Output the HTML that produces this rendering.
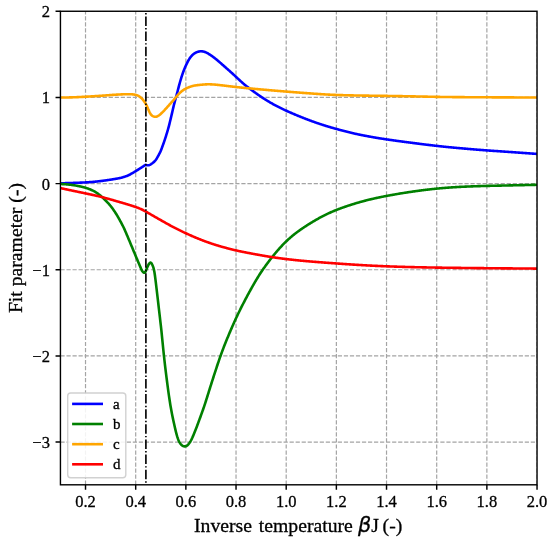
<!DOCTYPE html>
<html><head><meta charset="utf-8"><title>Fit parameters</title>
<style>html,body{margin:0;padding:0;background:#fff}svg{display:block}</style></head>
<body>
<svg width="550" height="540" viewBox="0 0 550 540">
<rect width="550" height="540" fill="#fff"/>
<clipPath id="ax"><rect x="60.44" y="11.26" width="476.59999999999997" height="473.54"/></clipPath>
<path d="M85.52,484.8 V11.26 M135.69,484.8 V11.26 M185.86,484.8 V11.26 M236.03,484.8 V11.26 M286.20,484.8 V11.26 M336.37,484.8 V11.26 M386.53,484.8 V11.26 M436.70,484.8 V11.26 M486.87,484.8 V11.26 M537.04,484.8 V11.26 M60.44,11.29 H537.04 M60.44,97.45 H537.04 M60.44,183.61 H537.04 M60.44,269.77 H537.04 M60.44,355.93 H537.04 M60.44,442.09 H537.04" fill="none" stroke="#a4a4a4" stroke-width="1.2" stroke-dasharray="4.22 1.81" clip-path="url(#ax)"/>
<g clip-path="url(#ax)" fill="none" stroke-width="2.6" stroke-linejoin="round">
<path d="M60.4,183.30 L60.9,183.29 L61.4,183.28 L61.9,183.26 L62.4,183.25 L62.9,183.24 L63.4,183.22 L63.9,183.21 L64.4,183.20 L64.9,183.18 L65.4,183.17 L65.9,183.15 L66.4,183.14 L66.9,183.12 L67.4,183.11 L67.9,183.09 L68.4,183.07 L68.9,183.06 L69.4,183.04 L69.9,183.03 L70.4,183.01 L70.9,183.00 L71.4,182.98 L71.9,182.96 L72.4,182.95 L72.9,182.93 L73.4,182.91 L73.9,182.89 L74.4,182.88 L74.9,182.86 L75.4,182.84 L75.9,182.82 L76.4,182.80 L76.9,182.78 L77.4,182.76 L77.9,182.74 L78.4,182.72 L78.9,182.70 L79.4,182.68 L79.9,182.66 L80.4,182.64 L80.9,182.62 L81.4,182.59 L81.9,182.57 L82.4,182.55 L82.9,182.53 L83.4,182.50 L83.9,182.48 L84.4,182.46 L84.9,182.43 L85.4,182.41 L85.9,182.38 L86.4,182.36 L86.9,182.33 L87.4,182.30 L87.9,182.27 L88.4,182.24 L88.9,182.20 L89.4,182.17 L89.9,182.13 L90.4,182.09 L90.9,182.06 L91.4,182.02 L91.9,181.97 L92.4,181.93 L92.9,181.89 L93.4,181.84 L93.9,181.79 L94.4,181.75 L94.9,181.70 L95.4,181.65 L95.9,181.60 L96.4,181.54 L96.9,181.49 L97.4,181.44 L97.9,181.38 L98.4,181.33 L98.9,181.27 L99.4,181.21 L99.9,181.15 L100.4,181.10 L100.9,181.04 L101.4,180.97 L101.9,180.91 L102.4,180.85 L102.9,180.78 L103.4,180.71 L103.9,180.65 L104.4,180.58 L104.9,180.51 L105.4,180.44 L105.9,180.37 L106.4,180.29 L106.9,180.22 L107.4,180.15 L107.9,180.07 L108.4,180.00 L108.9,179.92 L109.4,179.84 L109.9,179.76 L110.4,179.69 L110.9,179.61 L111.4,179.53 L111.9,179.45 L112.4,179.37 L112.9,179.29 L113.4,179.20 L113.9,179.12 L114.4,179.04 L114.9,178.96 L115.4,178.88 L115.9,178.79 L116.4,178.70 L116.9,178.61 L117.4,178.52 L117.9,178.42 L118.4,178.32 L118.9,178.22 L119.4,178.12 L119.9,178.01 L120.4,177.90 L120.9,177.79 L121.4,177.66 L121.9,177.53 L122.4,177.39 L122.9,177.25 L123.4,177.10 L123.9,176.95 L124.4,176.79 L124.9,176.62 L125.4,176.45 L125.9,176.28 L126.4,176.10 L126.9,175.91 L127.4,175.71 L127.9,175.50 L128.4,175.28 L128.9,175.04 L129.4,174.80 L129.9,174.53 L130.4,174.26 L130.9,173.98 L131.4,173.70 L131.9,173.42 L132.4,173.13 L132.9,172.84 L133.4,172.55 L133.9,172.25 L134.4,171.95 L134.9,171.65 L135.4,171.34 L135.9,171.03 L136.4,170.71 L136.9,170.40 L137.4,170.09 L137.9,169.78 L138.4,169.47 L138.9,169.15 L139.4,168.84 L139.9,168.52 L140.4,168.20 L140.9,167.87 L141.4,167.55 L141.9,167.22 L142.4,166.89 L142.9,166.57 L143.4,166.24 L143.9,165.91 L144.4,165.57 L144.9,165.24 L145.4,164.94 L145.9,164.87 L146.4,165.05 L146.9,165.17 L147.4,165.26 L147.9,165.31 L148.4,165.29 L148.9,165.20 L149.4,165.05 L149.9,164.86 L150.4,164.60 L150.9,164.27 L151.4,163.91 L151.9,163.54 L152.4,163.17 L152.9,162.78 L153.4,162.39 L153.9,161.98 L154.4,161.51 L154.9,160.97 L155.4,160.37 L155.9,159.72 L156.4,159.00 L156.9,158.20 L157.4,157.34 L157.9,156.44 L158.4,155.53 L158.9,154.60 L159.4,153.65 L159.9,152.67 L160.4,151.63 L160.9,150.49 L161.4,149.24 L161.9,147.91 L162.4,146.54 L162.9,145.16 L163.4,143.76 L163.9,142.34 L164.4,140.88 L164.9,139.40 L165.4,137.87 L165.9,136.32 L166.4,134.73 L166.9,133.12 L167.4,131.46 L167.9,129.74 L168.4,127.94 L168.9,126.05 L169.4,124.07 L169.9,122.05 L170.4,119.99 L170.9,117.92 L171.4,115.79 L171.9,113.61 L172.4,111.43 L172.9,109.25 L173.4,107.11 L173.9,105.04 L174.4,103.07 L174.9,101.21 L175.4,99.43 L175.9,97.65 L176.4,95.82 L176.9,93.93 L177.4,91.99 L177.9,90.04 L178.4,88.10 L178.9,86.18 L179.4,84.31 L179.9,82.50 L180.4,80.76 L180.9,79.08 L181.4,77.46 L181.9,75.89 L182.4,74.38 L182.9,72.92 L183.4,71.54 L183.9,70.22 L184.4,68.97 L184.9,67.77 L185.4,66.61 L185.9,65.49 L186.4,64.41 L186.9,63.36 L187.4,62.36 L187.9,61.40 L188.4,60.49 L188.9,59.63 L189.4,58.82 L189.9,58.06 L190.4,57.35 L190.9,56.70 L191.4,56.09 L191.9,55.55 L192.4,55.06 L192.9,54.61 L193.4,54.19 L193.9,53.80 L194.4,53.44 L194.9,53.11 L195.4,52.81 L195.9,52.54 L196.4,52.31 L196.9,52.11 L197.4,51.93 L197.9,51.77 L198.4,51.63 L198.9,51.51 L199.4,51.42 L199.9,51.35 L200.4,51.31 L200.9,51.30 L201.4,51.31 L201.9,51.33 L202.4,51.37 L202.9,51.43 L203.4,51.52 L203.9,51.64 L204.4,51.79 L204.9,51.98 L205.4,52.19 L205.9,52.41 L206.4,52.65 L206.9,52.90 L207.4,53.16 L207.9,53.44 L208.4,53.73 L208.9,54.04 L209.4,54.35 L209.9,54.68 L210.4,55.02 L210.9,55.36 L211.4,55.70 L211.9,56.04 L212.4,56.39 L212.9,56.75 L213.4,57.11 L213.9,57.48 L214.4,57.86 L214.9,58.25 L215.4,58.65 L215.9,59.06 L216.4,59.47 L216.9,59.88 L217.4,60.30 L217.9,60.73 L218.4,61.15 L218.9,61.58 L219.4,62.02 L219.9,62.45 L220.4,62.89 L220.9,63.33 L221.4,63.77 L221.9,64.21 L222.4,64.64 L222.9,65.08 L223.4,65.52 L223.9,65.96 L224.4,66.40 L224.9,66.84 L225.4,67.28 L225.9,67.72 L226.4,68.17 L226.9,68.61 L227.4,69.05 L227.9,69.49 L228.4,69.93 L228.9,70.38 L229.4,70.82 L229.9,71.27 L230.4,71.72 L230.9,72.17 L231.4,72.62 L231.9,73.07 L232.4,73.53 L232.9,73.98 L233.4,74.44 L233.9,74.90 L234.4,75.36 L234.9,75.82 L235.4,76.29 L235.9,76.75 L236.4,77.21 L236.9,77.68 L237.4,78.14 L237.9,78.61 L238.4,79.08 L238.9,79.54 L239.4,80.01 L239.9,80.47 L240.4,80.93 L240.9,81.39 L241.4,81.85 L241.9,82.30 L242.4,82.74 L242.9,83.18 L243.4,83.62 L243.9,84.05 L244.4,84.47 L244.9,84.89 L245.4,85.30 L245.9,85.70 L246.4,86.10 L246.9,86.50 L247.4,86.88 L247.9,87.27 L248.4,87.65 L248.9,88.03 L249.4,88.41 L249.9,88.78 L250.4,89.16 L250.9,89.53 L251.4,89.90 L251.9,90.27 L252.4,90.64 L252.9,91.00 L253.4,91.37 L253.9,91.74 L254.4,92.10 L254.9,92.46 L255.4,92.82 L255.9,93.18 L256.4,93.54 L256.9,93.89 L257.4,94.24 L257.9,94.59 L258.4,94.94 L258.9,95.29 L259.4,95.63 L259.9,95.97 L260.4,96.31 L260.9,96.65 L261.4,96.98 L261.9,97.32 L262.4,97.65 L262.9,97.97 L263.4,98.30 L263.9,98.62 L264.4,98.94 L264.9,99.26 L265.4,99.57 L265.9,99.89 L266.4,100.20 L266.9,100.50 L267.4,100.81 L267.9,101.11 L268.4,101.41 L268.9,101.71 L269.4,102.01 L269.9,102.30 L270.4,102.60 L270.9,102.88 L271.4,103.17 L271.9,103.46 L272.4,103.74 L272.9,104.02 L273.4,104.30 L273.9,104.57 L274.4,104.84 L274.9,105.11 L275.4,105.38 L275.9,105.65 L276.4,105.91 L276.9,106.17 L277.4,106.43 L277.9,106.69 L278.4,106.94 L278.9,107.19 L279.4,107.44 L279.9,107.69 L280.4,107.94 L280.9,108.18 L281.4,108.43 L281.9,108.67 L282.4,108.91 L282.9,109.14 L283.4,109.38 L283.9,109.61 L284.4,109.85 L284.9,110.08 L285.4,110.31 L285.9,110.54 L286.4,110.77 L286.9,110.99 L287.4,111.22 L287.9,111.44 L288.4,111.67 L288.9,111.89 L289.4,112.11 L289.9,112.33 L290.4,112.55 L290.9,112.77 L291.4,112.99 L291.9,113.21 L292.4,113.42 L292.9,113.64 L293.4,113.85 L293.9,114.06 L294.4,114.28 L294.9,114.49 L295.4,114.70 L295.9,114.91 L296.4,115.12 L296.9,115.33 L297.4,115.53 L297.9,115.74 L298.4,115.95 L298.9,116.15 L299.4,116.35 L299.9,116.56 L300.4,116.76 L300.9,116.96 L301.4,117.16 L301.9,117.36 L302.4,117.56 L302.9,117.76 L303.4,117.96 L303.9,118.15 L304.4,118.35 L304.9,118.54 L305.4,118.74 L305.9,118.93 L306.4,119.12 L306.9,119.31 L307.4,119.50 L307.9,119.69 L308.4,119.88 L308.9,120.07 L309.4,120.25 L309.9,120.44 L310.4,120.63 L310.9,120.81 L311.4,120.99 L311.9,121.17 L312.4,121.36 L312.9,121.54 L313.4,121.72 L313.9,121.89 L314.4,122.07 L314.9,122.25 L315.4,122.42 L315.9,122.60 L316.4,122.77 L316.9,122.94 L317.4,123.12 L317.9,123.29 L318.4,123.46 L318.9,123.62 L319.4,123.79 L319.9,123.96 L320.4,124.12 L320.9,124.29 L321.4,124.45 L321.9,124.62 L322.4,124.78 L322.9,124.94 L323.4,125.10 L323.9,125.26 L324.4,125.41 L324.9,125.57 L325.4,125.73 L325.9,125.88 L326.4,126.04 L326.9,126.19 L327.4,126.34 L327.9,126.49 L328.4,126.64 L328.9,126.79 L329.4,126.94 L329.9,127.09 L330.4,127.24 L330.9,127.39 L331.4,127.53 L331.9,127.68 L332.4,127.82 L332.9,127.97 L333.4,128.11 L333.9,128.25 L334.4,128.39 L334.9,128.54 L335.4,128.68 L335.9,128.82 L336.4,128.96 L336.9,129.10 L337.4,129.23 L337.9,129.37 L338.4,129.51 L338.9,129.65 L339.4,129.78 L339.9,129.92 L340.4,130.05 L340.9,130.18 L341.4,130.32 L341.9,130.45 L342.4,130.58 L342.9,130.71 L343.4,130.84 L343.9,130.97 L344.4,131.10 L344.9,131.23 L345.4,131.36 L345.9,131.49 L346.4,131.61 L346.9,131.74 L347.4,131.86 L347.9,131.99 L348.4,132.11 L348.9,132.23 L349.4,132.36 L349.9,132.48 L350.4,132.60 L350.9,132.72 L351.4,132.83 L351.9,132.95 L352.4,133.07 L352.9,133.18 L353.4,133.30 L353.9,133.41 L354.4,133.52 L354.9,133.64 L355.4,133.75 L355.9,133.86 L356.4,133.97 L356.9,134.08 L357.4,134.19 L357.9,134.29 L358.4,134.40 L358.9,134.51 L359.4,134.61 L359.9,134.71 L360.4,134.82 L360.9,134.92 L361.4,135.02 L361.9,135.12 L362.4,135.22 L362.9,135.32 L363.4,135.42 L363.9,135.52 L364.4,135.62 L364.9,135.71 L365.4,135.81 L365.9,135.90 L366.4,136.00 L366.9,136.09 L367.4,136.19 L367.9,136.28 L368.4,136.37 L368.9,136.46 L369.4,136.56 L369.9,136.65 L370.4,136.74 L370.9,136.83 L371.4,136.91 L371.9,137.00 L372.4,137.09 L372.9,137.18 L373.4,137.27 L373.9,137.35 L374.4,137.44 L374.9,137.52 L375.4,137.61 L375.9,137.69 L376.4,137.78 L376.9,137.86 L377.4,137.94 L377.9,138.03 L378.4,138.11 L378.9,138.19 L379.4,138.27 L379.9,138.35 L380.4,138.43 L380.9,138.51 L381.4,138.59 L381.9,138.67 L382.4,138.75 L382.9,138.83 L383.4,138.90 L383.9,138.98 L384.4,139.06 L384.9,139.13 L385.4,139.21 L385.9,139.28 L386.4,139.36 L386.9,139.43 L387.4,139.51 L387.9,139.58 L388.4,139.65 L388.9,139.73 L389.4,139.80 L389.9,139.87 L390.4,139.94 L390.9,140.01 L391.4,140.09 L391.9,140.16 L392.4,140.23 L392.9,140.30 L393.4,140.37 L393.9,140.44 L394.4,140.51 L394.9,140.58 L395.4,140.65 L395.9,140.72 L396.4,140.78 L396.9,140.85 L397.4,140.92 L397.9,140.99 L398.4,141.06 L398.9,141.12 L399.4,141.19 L399.9,141.26 L400.4,141.33 L400.9,141.39 L401.4,141.46 L401.9,141.53 L402.4,141.59 L402.9,141.66 L403.4,141.73 L403.9,141.79 L404.4,141.86 L404.9,141.92 L405.4,141.99 L405.9,142.06 L406.4,142.12 L406.9,142.19 L407.4,142.25 L407.9,142.32 L408.4,142.38 L408.9,142.45 L409.4,142.51 L409.9,142.58 L410.4,142.64 L410.9,142.71 L411.4,142.77 L411.9,142.83 L412.4,142.90 L412.9,142.96 L413.4,143.03 L413.9,143.09 L414.4,143.16 L414.9,143.22 L415.4,143.28 L415.9,143.35 L416.4,143.41 L416.9,143.47 L417.4,143.54 L417.9,143.60 L418.4,143.66 L418.9,143.73 L419.4,143.79 L419.9,143.85 L420.4,143.92 L420.9,143.98 L421.4,144.04 L421.9,144.11 L422.4,144.17 L422.9,144.23 L423.4,144.29 L423.9,144.36 L424.4,144.42 L424.9,144.48 L425.4,144.54 L425.9,144.60 L426.4,144.67 L426.9,144.73 L427.4,144.79 L427.9,144.85 L428.4,144.91 L428.9,144.97 L429.4,145.03 L429.9,145.09 L430.4,145.15 L430.9,145.21 L431.4,145.27 L431.9,145.33 L432.4,145.39 L432.9,145.45 L433.4,145.51 L433.9,145.57 L434.4,145.62 L434.9,145.68 L435.4,145.74 L435.9,145.80 L436.4,145.85 L436.9,145.91 L437.4,145.97 L437.9,146.02 L438.4,146.08 L438.9,146.13 L439.4,146.19 L439.9,146.24 L440.4,146.30 L440.9,146.35 L441.4,146.40 L441.9,146.46 L442.4,146.51 L442.9,146.56 L443.4,146.61 L443.9,146.67 L444.4,146.72 L444.9,146.77 L445.4,146.82 L445.9,146.87 L446.4,146.92 L446.9,146.97 L447.4,147.02 L447.9,147.07 L448.4,147.12 L448.9,147.17 L449.4,147.22 L449.9,147.26 L450.4,147.31 L450.9,147.36 L451.4,147.41 L451.9,147.45 L452.4,147.50 L452.9,147.55 L453.4,147.60 L453.9,147.64 L454.4,147.69 L454.9,147.73 L455.4,147.78 L455.9,147.83 L456.4,147.87 L456.9,147.92 L457.4,147.96 L457.9,148.01 L458.4,148.05 L458.9,148.10 L459.4,148.14 L459.9,148.19 L460.4,148.23 L460.9,148.28 L461.4,148.32 L461.9,148.37 L462.4,148.41 L462.9,148.45 L463.4,148.50 L463.9,148.54 L464.4,148.59 L464.9,148.63 L465.4,148.67 L465.9,148.72 L466.4,148.76 L466.9,148.80 L467.4,148.85 L467.9,148.89 L468.4,148.93 L468.9,148.97 L469.4,149.02 L469.9,149.06 L470.4,149.10 L470.9,149.14 L471.4,149.19 L471.9,149.23 L472.4,149.27 L472.9,149.31 L473.4,149.35 L473.9,149.40 L474.4,149.44 L474.9,149.48 L475.4,149.52 L475.9,149.56 L476.4,149.60 L476.9,149.64 L477.4,149.68 L477.9,149.72 L478.4,149.76 L478.9,149.80 L479.4,149.84 L479.9,149.88 L480.4,149.92 L480.9,149.95 L481.4,149.99 L481.9,150.03 L482.4,150.07 L482.9,150.11 L483.4,150.15 L483.9,150.18 L484.4,150.22 L484.9,150.26 L485.4,150.29 L485.9,150.33 L486.4,150.37 L486.9,150.40 L487.4,150.44 L487.9,150.48 L488.4,150.51 L488.9,150.55 L489.4,150.58 L489.9,150.62 L490.4,150.65 L490.9,150.69 L491.4,150.72 L491.9,150.76 L492.4,150.79 L492.9,150.83 L493.4,150.86 L493.9,150.90 L494.4,150.93 L494.9,150.97 L495.4,151.00 L495.9,151.04 L496.4,151.07 L496.9,151.11 L497.4,151.14 L497.9,151.17 L498.4,151.21 L498.9,151.24 L499.4,151.28 L499.9,151.31 L500.4,151.35 L500.9,151.38 L501.4,151.41 L501.9,151.45 L502.4,151.48 L502.9,151.52 L503.4,151.55 L503.9,151.58 L504.4,151.62 L504.9,151.65 L505.4,151.69 L505.9,151.72 L506.4,151.76 L506.9,151.79 L507.4,151.82 L507.9,151.86 L508.4,151.89 L508.9,151.93 L509.4,151.96 L509.9,152.00 L510.4,152.03 L510.9,152.06 L511.4,152.10 L511.9,152.13 L512.4,152.17 L512.9,152.20 L513.4,152.24 L513.9,152.27 L514.4,152.31 L514.9,152.34 L515.4,152.38 L515.9,152.41 L516.4,152.45 L516.9,152.48 L517.4,152.52 L517.9,152.55 L518.4,152.59 L518.9,152.62 L519.4,152.66 L519.9,152.69 L520.4,152.73 L520.9,152.76 L521.4,152.80 L521.9,152.83 L522.4,152.87 L522.9,152.90 L523.4,152.94 L523.9,152.97 L524.4,153.01 L524.9,153.04 L525.4,153.08 L525.9,153.11 L526.4,153.15 L526.9,153.18 L527.4,153.22 L527.9,153.26 L528.4,153.29 L528.9,153.33 L529.4,153.36 L529.9,153.40 L530.4,153.43 L530.9,153.47 L531.4,153.50 L531.9,153.54 L532.4,153.58 L532.9,153.61 L533.4,153.65 L533.9,153.68 L534.4,153.72 L534.9,153.76 L535.4,153.79 L535.9,153.83 L536.4,153.86 L537.0,153.90" stroke="#0000ff"/>
<path d="M60.4,184.00 L60.9,184.02 L61.4,184.04 L61.9,184.06 L62.4,184.09 L62.9,184.11 L63.4,184.14 L63.9,184.17 L64.4,184.20 L64.9,184.24 L65.4,184.28 L65.9,184.31 L66.4,184.35 L66.9,184.40 L67.4,184.44 L67.9,184.49 L68.4,184.54 L68.9,184.59 L69.4,184.64 L69.9,184.70 L70.4,184.76 L70.9,184.82 L71.4,184.88 L71.9,184.95 L72.4,185.02 L72.9,185.09 L73.4,185.16 L73.9,185.24 L74.4,185.32 L74.9,185.41 L75.4,185.49 L75.9,185.58 L76.4,185.67 L76.9,185.76 L77.4,185.86 L77.9,185.95 L78.4,186.05 L78.9,186.15 L79.4,186.25 L79.9,186.36 L80.4,186.47 L80.9,186.59 L81.4,186.71 L81.9,186.83 L82.4,186.95 L82.9,187.08 L83.4,187.21 L83.9,187.35 L84.4,187.48 L84.9,187.62 L85.4,187.76 L85.9,187.90 L86.4,188.05 L86.9,188.20 L87.4,188.37 L87.9,188.55 L88.4,188.73 L88.9,188.92 L89.4,189.11 L89.9,189.32 L90.4,189.53 L90.9,189.74 L91.4,189.97 L91.9,190.20 L92.4,190.43 L92.9,190.67 L93.4,190.92 L93.9,191.18 L94.4,191.45 L94.9,191.73 L95.4,192.03 L95.9,192.33 L96.4,192.65 L96.9,192.98 L97.4,193.32 L97.9,193.67 L98.4,194.03 L98.9,194.41 L99.4,194.79 L99.9,195.19 L100.4,195.60 L100.9,196.02 L101.4,196.45 L101.9,196.89 L102.4,197.34 L102.9,197.81 L103.4,198.28 L103.9,198.76 L104.4,199.25 L104.9,199.74 L105.4,200.24 L105.9,200.75 L106.4,201.27 L106.9,201.79 L107.4,202.33 L107.9,202.87 L108.4,203.42 L108.9,203.98 L109.4,204.55 L109.9,205.13 L110.4,205.72 L110.9,206.34 L111.4,206.97 L111.9,207.62 L112.4,208.29 L112.9,208.98 L113.4,209.69 L113.9,210.41 L114.4,211.15 L114.9,211.91 L115.4,212.68 L115.9,213.47 L116.4,214.28 L116.9,215.11 L117.4,215.96 L117.9,216.82 L118.4,217.69 L118.9,218.58 L119.4,219.48 L119.9,220.39 L120.4,221.31 L120.9,222.22 L121.4,223.15 L121.9,224.08 L122.4,225.03 L122.9,226.01 L123.4,227.02 L123.9,228.06 L124.4,229.14 L124.9,230.26 L125.4,231.42 L125.9,232.58 L126.4,233.75 L126.9,234.93 L127.4,236.10 L127.9,237.29 L128.4,238.47 L128.9,239.66 L129.4,240.86 L129.9,242.06 L130.4,243.26 L130.9,244.46 L131.4,245.66 L131.9,246.86 L132.4,248.06 L132.9,249.26 L133.4,250.46 L133.9,251.66 L134.4,252.86 L134.9,254.06 L135.4,255.25 L135.9,256.45 L136.4,257.64 L136.9,258.83 L137.4,260.02 L137.9,261.21 L138.4,262.40 L138.9,263.60 L139.4,264.78 L139.9,265.95 L140.4,267.12 L140.9,268.27 L141.4,269.41 L141.9,270.50 L142.4,271.30 L142.9,271.91 L143.4,272.44 L143.9,272.75 L144.4,272.77 L144.9,272.45 L145.4,271.78 L145.9,270.84 L146.4,269.60 L146.9,268.29 L147.4,267.07 L147.9,265.94 L148.4,264.89 L148.9,264.00 L149.4,263.37 L149.9,262.88 L150.4,262.61 L150.9,262.74 L151.4,263.25 L151.9,264.03 L152.4,265.03 L152.9,266.17 L153.4,267.62 L153.9,269.53 L154.4,272.07 L154.9,275.29 L155.4,279.12 L155.9,283.15 L156.4,287.34 L156.9,291.63 L157.4,295.91 L157.9,300.21 L158.4,304.50 L158.9,308.82 L159.4,313.14 L159.9,317.47 L160.4,321.82 L160.9,326.18 L161.4,330.70 L161.9,335.55 L162.4,340.60 L162.9,345.69 L163.4,350.69 L163.9,355.45 L164.4,359.95 L164.9,364.30 L165.4,368.51 L165.9,372.62 L166.4,376.62 L166.9,380.53 L167.4,384.37 L167.9,388.14 L168.4,391.81 L168.9,395.37 L169.4,398.80 L169.9,402.07 L170.4,405.17 L170.9,408.07 L171.4,410.82 L171.9,413.44 L172.4,415.96 L172.9,418.38 L173.4,420.73 L173.9,423.03 L174.4,425.29 L174.9,427.50 L175.4,429.64 L175.9,431.70 L176.4,433.65 L176.9,435.47 L177.4,437.15 L177.9,438.65 L178.4,439.96 L178.9,441.11 L179.4,442.10 L179.9,442.95 L180.4,443.67 L180.9,444.28 L181.4,444.81 L181.9,445.27 L182.4,445.65 L182.9,445.95 L183.4,446.16 L183.9,446.29 L184.4,446.35 L184.9,446.37 L185.4,446.33 L185.9,446.21 L186.4,446.02 L186.9,445.74 L187.4,445.35 L187.9,444.85 L188.4,444.28 L188.9,443.66 L189.4,442.98 L189.9,442.24 L190.4,441.44 L190.9,440.57 L191.4,439.63 L191.9,438.62 L192.4,437.53 L192.9,436.37 L193.4,435.17 L193.9,433.97 L194.4,432.75 L194.9,431.51 L195.4,430.26 L195.9,429.00 L196.4,427.71 L196.9,426.41 L197.4,425.08 L197.9,423.74 L198.4,422.37 L198.9,421.01 L199.4,419.65 L199.9,418.29 L200.4,416.93 L200.9,415.56 L201.4,414.18 L201.9,412.79 L202.4,411.39 L202.9,409.97 L203.4,408.54 L203.9,407.08 L204.4,405.60 L204.9,404.09 L205.4,402.56 L205.9,401.01 L206.4,399.44 L206.9,397.85 L207.4,396.26 L207.9,394.65 L208.4,393.05 L208.9,391.45 L209.4,389.85 L209.9,388.25 L210.4,386.66 L210.9,385.08 L211.4,383.51 L211.9,381.95 L212.4,380.39 L212.9,378.83 L213.4,377.27 L213.9,375.72 L214.4,374.17 L214.9,372.63 L215.4,371.09 L215.9,369.56 L216.4,368.04 L216.9,366.53 L217.4,365.02 L217.9,363.53 L218.4,362.05 L218.9,360.58 L219.4,359.12 L219.9,357.68 L220.4,356.26 L220.9,354.86 L221.4,353.47 L221.9,352.10 L222.4,350.75 L222.9,349.42 L223.4,348.11 L223.9,346.81 L224.4,345.53 L224.9,344.27 L225.4,343.02 L225.9,341.77 L226.4,340.54 L226.9,339.32 L227.4,338.11 L227.9,336.90 L228.4,335.70 L228.9,334.50 L229.4,333.31 L229.9,332.13 L230.4,330.95 L230.9,329.78 L231.4,328.62 L231.9,327.47 L232.4,326.32 L232.9,325.18 L233.4,324.05 L233.9,322.93 L234.4,321.82 L234.9,320.72 L235.4,319.63 L235.9,318.55 L236.4,317.48 L236.9,316.42 L237.4,315.36 L237.9,314.31 L238.4,313.27 L238.9,312.24 L239.4,311.22 L239.9,310.20 L240.4,309.19 L240.9,308.18 L241.4,307.18 L241.9,306.19 L242.4,305.20 L242.9,304.22 L243.4,303.25 L243.9,302.28 L244.4,301.31 L244.9,300.36 L245.4,299.41 L245.9,298.46 L246.4,297.52 L246.9,296.58 L247.4,295.65 L247.9,294.72 L248.4,293.80 L248.9,292.88 L249.4,291.97 L249.9,291.06 L250.4,290.15 L250.9,289.25 L251.4,288.36 L251.9,287.46 L252.4,286.57 L252.9,285.69 L253.4,284.81 L253.9,283.94 L254.4,283.07 L254.9,282.21 L255.4,281.36 L255.9,280.51 L256.4,279.67 L256.9,278.84 L257.4,278.02 L257.9,277.20 L258.4,276.40 L258.9,275.60 L259.4,274.82 L259.9,274.04 L260.4,273.27 L260.9,272.51 L261.4,271.75 L261.9,271.01 L262.4,270.27 L262.9,269.54 L263.4,268.82 L263.9,268.11 L264.4,267.40 L264.9,266.70 L265.4,266.00 L265.9,265.31 L266.4,264.63 L266.9,263.95 L267.4,263.28 L267.9,262.61 L268.4,261.94 L268.9,261.28 L269.4,260.63 L269.9,259.98 L270.4,259.33 L270.9,258.69 L271.4,258.05 L271.9,257.42 L272.4,256.79 L272.9,256.17 L273.4,255.55 L273.9,254.93 L274.4,254.32 L274.9,253.72 L275.4,253.11 L275.9,252.52 L276.4,251.93 L276.9,251.34 L277.4,250.76 L277.9,250.18 L278.4,249.61 L278.9,249.04 L279.4,248.48 L279.9,247.93 L280.4,247.38 L280.9,246.83 L281.4,246.29 L281.9,245.76 L282.4,245.23 L282.9,244.71 L283.4,244.19 L283.9,243.68 L284.4,243.17 L284.9,242.67 L285.4,242.18 L285.9,241.69 L286.4,241.21 L286.9,240.73 L287.4,240.26 L287.9,239.79 L288.4,239.33 L288.9,238.88 L289.4,238.43 L289.9,237.99 L290.4,237.55 L290.9,237.12 L291.4,236.69 L291.9,236.27 L292.4,235.85 L292.9,235.44 L293.4,235.03 L293.9,234.63 L294.4,234.23 L294.9,233.84 L295.4,233.45 L295.9,233.06 L296.4,232.68 L296.9,232.30 L297.4,231.93 L297.9,231.56 L298.4,231.20 L298.9,230.83 L299.4,230.47 L299.9,230.12 L300.4,229.77 L300.9,229.42 L301.4,229.07 L301.9,228.72 L302.4,228.38 L302.9,228.04 L303.4,227.71 L303.9,227.37 L304.4,227.04 L304.9,226.71 L305.4,226.39 L305.9,226.06 L306.4,225.74 L306.9,225.42 L307.4,225.10 L307.9,224.78 L308.4,224.46 L308.9,224.15 L309.4,223.84 L309.9,223.53 L310.4,223.22 L310.9,222.91 L311.4,222.61 L311.9,222.30 L312.4,222.00 L312.9,221.70 L313.4,221.40 L313.9,221.11 L314.4,220.81 L314.9,220.52 L315.4,220.22 L315.9,219.94 L316.4,219.65 L316.9,219.36 L317.4,219.08 L317.9,218.80 L318.4,218.52 L318.9,218.24 L319.4,217.96 L319.9,217.69 L320.4,217.42 L320.9,217.15 L321.4,216.88 L321.9,216.62 L322.4,216.35 L322.9,216.09 L323.4,215.84 L323.9,215.58 L324.4,215.33 L324.9,215.08 L325.4,214.83 L325.9,214.58 L326.4,214.34 L326.9,214.10 L327.4,213.86 L327.9,213.63 L328.4,213.40 L328.9,213.16 L329.4,212.94 L329.9,212.71 L330.4,212.49 L330.9,212.27 L331.4,212.05 L331.9,211.83 L332.4,211.62 L332.9,211.40 L333.4,211.19 L333.9,210.99 L334.4,210.78 L334.9,210.58 L335.4,210.37 L335.9,210.17 L336.4,209.97 L336.9,209.78 L337.4,209.58 L337.9,209.39 L338.4,209.19 L338.9,209.00 L339.4,208.81 L339.9,208.63 L340.4,208.44 L340.9,208.26 L341.4,208.07 L341.9,207.89 L342.4,207.71 L342.9,207.53 L343.4,207.35 L343.9,207.17 L344.4,207.00 L344.9,206.82 L345.4,206.65 L345.9,206.48 L346.4,206.31 L346.9,206.14 L347.4,205.97 L347.9,205.80 L348.4,205.63 L348.9,205.47 L349.4,205.30 L349.9,205.14 L350.4,204.98 L350.9,204.82 L351.4,204.66 L351.9,204.50 L352.4,204.34 L352.9,204.19 L353.4,204.03 L353.9,203.88 L354.4,203.72 L354.9,203.57 L355.4,203.42 L355.9,203.27 L356.4,203.12 L356.9,202.97 L357.4,202.83 L357.9,202.68 L358.4,202.54 L358.9,202.39 L359.4,202.25 L359.9,202.11 L360.4,201.97 L360.9,201.83 L361.4,201.69 L361.9,201.55 L362.4,201.42 L362.9,201.28 L363.4,201.15 L363.9,201.01 L364.4,200.88 L364.9,200.75 L365.4,200.62 L365.9,200.49 L366.4,200.36 L366.9,200.24 L367.4,200.11 L367.9,199.98 L368.4,199.86 L368.9,199.74 L369.4,199.61 L369.9,199.49 L370.4,199.37 L370.9,199.25 L371.4,199.14 L371.9,199.02 L372.4,198.90 L372.9,198.79 L373.4,198.67 L373.9,198.56 L374.4,198.45 L374.9,198.33 L375.4,198.22 L375.9,198.11 L376.4,198.00 L376.9,197.89 L377.4,197.79 L377.9,197.68 L378.4,197.57 L378.9,197.47 L379.4,197.36 L379.9,197.26 L380.4,197.16 L380.9,197.05 L381.4,196.95 L381.9,196.85 L382.4,196.75 L382.9,196.65 L383.4,196.55 L383.9,196.45 L384.4,196.35 L384.9,196.26 L385.4,196.16 L385.9,196.06 L386.4,195.97 L386.9,195.87 L387.4,195.78 L387.9,195.68 L388.4,195.59 L388.9,195.50 L389.4,195.41 L389.9,195.31 L390.4,195.22 L390.9,195.13 L391.4,195.04 L391.9,194.95 L392.4,194.86 L392.9,194.77 L393.4,194.68 L393.9,194.60 L394.4,194.51 L394.9,194.42 L395.4,194.33 L395.9,194.25 L396.4,194.16 L396.9,194.08 L397.4,193.99 L397.9,193.91 L398.4,193.82 L398.9,193.74 L399.4,193.65 L399.9,193.57 L400.4,193.49 L400.9,193.40 L401.4,193.32 L401.9,193.24 L402.4,193.16 L402.9,193.08 L403.4,193.00 L403.9,192.92 L404.4,192.84 L404.9,192.76 L405.4,192.68 L405.9,192.60 L406.4,192.53 L406.9,192.45 L407.4,192.37 L407.9,192.30 L408.4,192.22 L408.9,192.14 L409.4,192.07 L409.9,191.99 L410.4,191.92 L410.9,191.85 L411.4,191.77 L411.9,191.70 L412.4,191.63 L412.9,191.55 L413.4,191.48 L413.9,191.41 L414.4,191.34 L414.9,191.27 L415.4,191.20 L415.9,191.13 L416.4,191.06 L416.9,190.99 L417.4,190.92 L417.9,190.85 L418.4,190.79 L418.9,190.72 L419.4,190.65 L419.9,190.59 L420.4,190.52 L420.9,190.46 L421.4,190.39 L421.9,190.33 L422.4,190.26 L422.9,190.20 L423.4,190.14 L423.9,190.07 L424.4,190.01 L424.9,189.95 L425.4,189.89 L425.9,189.83 L426.4,189.77 L426.9,189.71 L427.4,189.65 L427.9,189.59 L428.4,189.53 L428.9,189.47 L429.4,189.42 L429.9,189.36 L430.4,189.30 L430.9,189.25 L431.4,189.19 L431.9,189.14 L432.4,189.08 L432.9,189.03 L433.4,188.97 L433.9,188.92 L434.4,188.87 L434.9,188.82 L435.4,188.76 L435.9,188.71 L436.4,188.66 L436.9,188.61 L437.4,188.56 L437.9,188.51 L438.4,188.47 L438.9,188.42 L439.4,188.37 L439.9,188.32 L440.4,188.28 L440.9,188.23 L441.4,188.19 L441.9,188.14 L442.4,188.10 L442.9,188.06 L443.4,188.01 L443.9,187.97 L444.4,187.93 L444.9,187.89 L445.4,187.85 L445.9,187.81 L446.4,187.77 L446.9,187.73 L447.4,187.69 L447.9,187.65 L448.4,187.61 L448.9,187.58 L449.4,187.54 L449.9,187.50 L450.4,187.47 L450.9,187.43 L451.4,187.40 L451.9,187.37 L452.4,187.33 L452.9,187.30 L453.4,187.27 L453.9,187.24 L454.4,187.21 L454.9,187.18 L455.4,187.15 L455.9,187.12 L456.4,187.09 L456.9,187.06 L457.4,187.03 L457.9,187.00 L458.4,186.98 L458.9,186.95 L459.4,186.92 L459.9,186.90 L460.4,186.87 L460.9,186.85 L461.4,186.82 L461.9,186.80 L462.4,186.78 L462.9,186.75 L463.4,186.73 L463.9,186.71 L464.4,186.68 L464.9,186.66 L465.4,186.64 L465.9,186.62 L466.4,186.59 L466.9,186.57 L467.4,186.55 L467.9,186.53 L468.4,186.51 L468.9,186.49 L469.4,186.47 L469.9,186.45 L470.4,186.43 L470.9,186.41 L471.4,186.39 L471.9,186.37 L472.4,186.36 L472.9,186.34 L473.4,186.32 L473.9,186.30 L474.4,186.28 L474.9,186.27 L475.4,186.25 L475.9,186.23 L476.4,186.21 L476.9,186.20 L477.4,186.18 L477.9,186.17 L478.4,186.15 L478.9,186.13 L479.4,186.12 L479.9,186.10 L480.4,186.09 L480.9,186.07 L481.4,186.06 L481.9,186.04 L482.4,186.03 L482.9,186.02 L483.4,186.00 L483.9,185.99 L484.4,185.97 L484.9,185.96 L485.4,185.95 L485.9,185.94 L486.4,185.92 L486.9,185.91 L487.4,185.90 L487.9,185.88 L488.4,185.87 L488.9,185.86 L489.4,185.85 L489.9,185.84 L490.4,185.82 L490.9,185.81 L491.4,185.80 L491.9,185.79 L492.4,185.78 L492.9,185.77 L493.4,185.76 L493.9,185.74 L494.4,185.73 L494.9,185.72 L495.4,185.71 L495.9,185.70 L496.4,185.69 L496.9,185.68 L497.4,185.67 L497.9,185.66 L498.4,185.65 L498.9,185.63 L499.4,185.62 L499.9,185.61 L500.4,185.60 L500.9,185.59 L501.4,185.58 L501.9,185.57 L502.4,185.56 L502.9,185.55 L503.4,185.54 L503.9,185.53 L504.4,185.52 L504.9,185.51 L505.4,185.49 L505.9,185.48 L506.4,185.47 L506.9,185.46 L507.4,185.45 L507.9,185.44 L508.4,185.43 L508.9,185.42 L509.4,185.41 L509.9,185.40 L510.4,185.39 L510.9,185.37 L511.4,185.36 L511.9,185.35 L512.4,185.34 L512.9,185.33 L513.4,185.32 L513.9,185.31 L514.4,185.30 L514.9,185.29 L515.4,185.28 L515.9,185.27 L516.4,185.25 L516.9,185.24 L517.4,185.23 L517.9,185.22 L518.4,185.21 L518.9,185.20 L519.4,185.19 L519.9,185.18 L520.4,185.17 L520.9,185.16 L521.4,185.14 L521.9,185.13 L522.4,185.12 L522.9,185.11 L523.4,185.10 L523.9,185.09 L524.4,185.08 L524.9,185.07 L525.4,185.06 L525.9,185.05 L526.4,185.03 L526.9,185.02 L527.4,185.01 L527.9,185.00 L528.4,184.99 L528.9,184.98 L529.4,184.97 L529.9,184.96 L530.4,184.95 L530.9,184.93 L531.4,184.92 L531.9,184.91 L532.4,184.90 L532.9,184.89 L533.4,184.88 L533.9,184.87 L534.4,184.86 L534.9,184.85 L535.4,184.83 L535.9,184.82 L536.4,184.81 L537.0,184.80" stroke="#008000"/>
<path d="M60.4,97.45 L60.9,97.45 L61.4,97.46 L61.9,97.46 L62.4,97.46 L62.9,97.46 L63.4,97.46 L63.9,97.46 L64.4,97.46 L64.9,97.46 L65.4,97.46 L65.9,97.46 L66.4,97.46 L66.9,97.45 L67.4,97.45 L67.9,97.44 L68.4,97.43 L68.9,97.43 L69.4,97.42 L69.9,97.41 L70.4,97.40 L70.9,97.38 L71.4,97.37 L71.9,97.35 L72.4,97.34 L72.9,97.32 L73.4,97.30 L73.9,97.28 L74.4,97.26 L74.9,97.24 L75.4,97.22 L75.9,97.20 L76.4,97.18 L76.9,97.16 L77.4,97.13 L77.9,97.11 L78.4,97.09 L78.9,97.06 L79.4,97.04 L79.9,97.02 L80.4,96.99 L80.9,96.97 L81.4,96.94 L81.9,96.91 L82.4,96.89 L82.9,96.86 L83.4,96.83 L83.9,96.81 L84.4,96.78 L84.9,96.75 L85.4,96.72 L85.9,96.69 L86.4,96.66 L86.9,96.63 L87.4,96.60 L87.9,96.57 L88.4,96.54 L88.9,96.51 L89.4,96.49 L89.9,96.46 L90.4,96.43 L90.9,96.40 L91.4,96.37 L91.9,96.34 L92.4,96.30 L92.9,96.27 L93.4,96.24 L93.9,96.21 L94.4,96.18 L94.9,96.15 L95.4,96.12 L95.9,96.09 L96.4,96.06 L96.9,96.02 L97.4,95.99 L97.9,95.96 L98.4,95.93 L98.9,95.89 L99.4,95.86 L99.9,95.83 L100.4,95.79 L100.9,95.76 L101.4,95.72 L101.9,95.69 L102.4,95.65 L102.9,95.62 L103.4,95.58 L103.9,95.55 L104.4,95.51 L104.9,95.47 L105.4,95.44 L105.9,95.40 L106.4,95.36 L106.9,95.32 L107.4,95.29 L107.9,95.25 L108.4,95.21 L108.9,95.18 L109.4,95.14 L109.9,95.10 L110.4,95.07 L110.9,95.03 L111.4,94.99 L111.9,94.96 L112.4,94.92 L112.9,94.89 L113.4,94.85 L113.9,94.82 L114.4,94.78 L114.9,94.75 L115.4,94.72 L115.9,94.69 L116.4,94.66 L116.9,94.63 L117.4,94.60 L117.9,94.57 L118.4,94.54 L118.9,94.51 L119.4,94.48 L119.9,94.45 L120.4,94.43 L120.9,94.40 L121.4,94.38 L121.9,94.36 L122.4,94.33 L122.9,94.32 L123.4,94.30 L123.9,94.28 L124.4,94.26 L124.9,94.25 L125.4,94.23 L125.9,94.22 L126.4,94.20 L126.9,94.19 L127.4,94.18 L127.9,94.18 L128.4,94.18 L128.9,94.19 L129.4,94.20 L129.9,94.22 L130.4,94.24 L130.9,94.26 L131.4,94.28 L131.9,94.30 L132.4,94.33 L132.9,94.37 L133.4,94.43 L133.9,94.51 L134.4,94.60 L134.9,94.70 L135.4,94.82 L135.9,94.93 L136.4,95.06 L136.9,95.21 L137.4,95.40 L137.9,95.63 L138.4,95.89 L138.9,96.18 L139.4,96.49 L139.9,96.84 L140.4,97.22 L140.9,97.65 L141.4,98.12 L141.9,98.61 L142.4,99.14 L142.9,99.72 L143.4,100.34 L143.9,101.00 L144.4,101.71 L144.9,102.46 L145.4,103.26 L145.9,104.13 L146.4,105.07 L146.9,106.11 L147.4,107.27 L147.9,108.47 L148.4,109.64 L148.9,110.74 L149.4,111.80 L149.9,112.79 L150.4,113.70 L150.9,114.46 L151.4,115.05 L151.9,115.49 L152.4,115.84 L152.9,116.13 L153.4,116.38 L153.9,116.59 L154.4,116.73 L154.9,116.80 L155.4,116.79 L155.9,116.75 L156.4,116.66 L156.9,116.51 L157.4,116.29 L157.9,116.00 L158.4,115.70 L158.9,115.37 L159.4,115.02 L159.9,114.64 L160.4,114.22 L160.9,113.76 L161.4,113.29 L161.9,112.81 L162.4,112.33 L162.9,111.84 L163.4,111.34 L163.9,110.82 L164.4,110.29 L164.9,109.73 L165.4,109.18 L165.9,108.62 L166.4,108.06 L166.9,107.51 L167.4,106.95 L167.9,106.39 L168.4,105.83 L168.9,105.28 L169.4,104.72 L169.9,104.16 L170.4,103.61 L170.9,103.05 L171.4,102.49 L171.9,101.94 L172.4,101.38 L172.9,100.82 L173.4,100.27 L173.9,99.70 L174.4,99.10 L174.9,98.50 L175.4,97.88 L175.9,97.27 L176.4,96.67 L176.9,96.09 L177.4,95.52 L177.9,94.97 L178.4,94.43 L178.9,93.90 L179.4,93.39 L179.9,92.90 L180.4,92.42 L180.9,91.96 L181.4,91.52 L181.9,91.10 L182.4,90.70 L182.9,90.33 L183.4,89.98 L183.9,89.65 L184.4,89.34 L184.9,89.05 L185.4,88.78 L185.9,88.52 L186.4,88.28 L186.9,88.05 L187.4,87.84 L187.9,87.64 L188.4,87.45 L188.9,87.26 L189.4,87.07 L189.9,86.89 L190.4,86.71 L190.9,86.54 L191.4,86.38 L191.9,86.22 L192.4,86.07 L192.9,85.93 L193.4,85.81 L193.9,85.69 L194.4,85.59 L194.9,85.51 L195.4,85.43 L195.9,85.36 L196.4,85.29 L196.9,85.22 L197.4,85.16 L197.9,85.09 L198.4,85.03 L198.9,84.97 L199.4,84.92 L199.9,84.86 L200.4,84.81 L200.9,84.77 L201.4,84.72 L201.9,84.68 L202.4,84.64 L202.9,84.60 L203.4,84.56 L203.9,84.52 L204.4,84.48 L204.9,84.44 L205.4,84.41 L205.9,84.38 L206.4,84.35 L206.9,84.33 L207.4,84.32 L207.9,84.31 L208.4,84.30 L208.9,84.31 L209.4,84.31 L209.9,84.32 L210.4,84.33 L210.9,84.35 L211.4,84.37 L211.9,84.40 L212.4,84.43 L212.9,84.46 L213.4,84.50 L213.9,84.53 L214.4,84.57 L214.9,84.62 L215.4,84.66 L215.9,84.71 L216.4,84.75 L216.9,84.80 L217.4,84.85 L217.9,84.90 L218.4,84.95 L218.9,85.00 L219.4,85.06 L219.9,85.11 L220.4,85.17 L220.9,85.22 L221.4,85.28 L221.9,85.34 L222.4,85.39 L222.9,85.45 L223.4,85.51 L223.9,85.57 L224.4,85.63 L224.9,85.69 L225.4,85.75 L225.9,85.81 L226.4,85.87 L226.9,85.93 L227.4,85.99 L227.9,86.05 L228.4,86.11 L228.9,86.17 L229.4,86.23 L229.9,86.29 L230.4,86.35 L230.9,86.41 L231.4,86.47 L231.9,86.53 L232.4,86.59 L232.9,86.65 L233.4,86.71 L233.9,86.77 L234.4,86.83 L234.9,86.88 L235.4,86.94 L235.9,87.00 L236.4,87.06 L236.9,87.11 L237.4,87.17 L237.9,87.22 L238.4,87.28 L238.9,87.33 L239.4,87.39 L239.9,87.44 L240.4,87.49 L240.9,87.55 L241.4,87.60 L241.9,87.65 L242.4,87.70 L242.9,87.75 L243.4,87.80 L243.9,87.85 L244.4,87.90 L244.9,87.95 L245.4,88.00 L245.9,88.05 L246.4,88.09 L246.9,88.14 L247.4,88.19 L247.9,88.24 L248.4,88.28 L248.9,88.33 L249.4,88.38 L249.9,88.42 L250.4,88.47 L250.9,88.52 L251.4,88.56 L251.9,88.61 L252.4,88.66 L252.9,88.70 L253.4,88.75 L253.9,88.79 L254.4,88.84 L254.9,88.89 L255.4,88.93 L255.9,88.98 L256.4,89.02 L256.9,89.07 L257.4,89.11 L257.9,89.16 L258.4,89.20 L258.9,89.25 L259.4,89.29 L259.9,89.34 L260.4,89.38 L260.9,89.43 L261.4,89.47 L261.9,89.52 L262.4,89.56 L262.9,89.61 L263.4,89.65 L263.9,89.69 L264.4,89.74 L264.9,89.78 L265.4,89.83 L265.9,89.87 L266.4,89.91 L266.9,89.96 L267.4,90.00 L267.9,90.05 L268.4,90.09 L268.9,90.13 L269.4,90.18 L269.9,90.22 L270.4,90.26 L270.9,90.31 L271.4,90.35 L271.9,90.39 L272.4,90.44 L272.9,90.48 L273.4,90.52 L273.9,90.56 L274.4,90.61 L274.9,90.65 L275.4,90.69 L275.9,90.73 L276.4,90.78 L276.9,90.82 L277.4,90.86 L277.9,90.90 L278.4,90.94 L278.9,90.99 L279.4,91.03 L279.9,91.07 L280.4,91.11 L280.9,91.15 L281.4,91.19 L281.9,91.23 L282.4,91.27 L282.9,91.31 L283.4,91.36 L283.9,91.40 L284.4,91.44 L284.9,91.48 L285.4,91.52 L285.9,91.56 L286.4,91.60 L286.9,91.64 L287.4,91.67 L287.9,91.71 L288.4,91.75 L288.9,91.79 L289.4,91.83 L289.9,91.87 L290.4,91.91 L290.9,91.95 L291.4,91.99 L291.9,92.03 L292.4,92.06 L292.9,92.10 L293.4,92.14 L293.9,92.18 L294.4,92.22 L294.9,92.26 L295.4,92.29 L295.9,92.33 L296.4,92.37 L296.9,92.41 L297.4,92.45 L297.9,92.49 L298.4,92.52 L298.9,92.56 L299.4,92.60 L299.9,92.64 L300.4,92.68 L300.9,92.71 L301.4,92.75 L301.9,92.79 L302.4,92.83 L302.9,92.86 L303.4,92.90 L303.9,92.94 L304.4,92.98 L304.9,93.01 L305.4,93.05 L305.9,93.09 L306.4,93.13 L306.9,93.16 L307.4,93.20 L307.9,93.24 L308.4,93.28 L308.9,93.31 L309.4,93.35 L309.9,93.39 L310.4,93.42 L310.9,93.46 L311.4,93.50 L311.9,93.53 L312.4,93.57 L312.9,93.60 L313.4,93.64 L313.9,93.68 L314.4,93.71 L314.9,93.75 L315.4,93.78 L315.9,93.82 L316.4,93.85 L316.9,93.89 L317.4,93.92 L317.9,93.95 L318.4,93.99 L318.9,94.02 L319.4,94.05 L319.9,94.09 L320.4,94.12 L320.9,94.15 L321.4,94.18 L321.9,94.22 L322.4,94.25 L322.9,94.28 L323.4,94.31 L323.9,94.34 L324.4,94.37 L324.9,94.40 L325.4,94.43 L325.9,94.45 L326.4,94.48 L326.9,94.51 L327.4,94.54 L327.9,94.56 L328.4,94.59 L328.9,94.62 L329.4,94.64 L329.9,94.67 L330.4,94.69 L330.9,94.72 L331.4,94.74 L331.9,94.76 L332.4,94.79 L332.9,94.81 L333.4,94.83 L333.9,94.85 L334.4,94.87 L334.9,94.89 L335.4,94.91 L335.9,94.93 L336.4,94.95 L336.9,94.97 L337.4,94.99 L337.9,95.01 L338.4,95.03 L338.9,95.04 L339.4,95.06 L339.9,95.08 L340.4,95.09 L340.9,95.11 L341.4,95.13 L341.9,95.14 L342.4,95.16 L342.9,95.17 L343.4,95.18 L343.9,95.20 L344.4,95.21 L344.9,95.23 L345.4,95.24 L345.9,95.25 L346.4,95.27 L346.9,95.28 L347.4,95.29 L347.9,95.30 L348.4,95.31 L348.9,95.33 L349.4,95.34 L349.9,95.35 L350.4,95.36 L350.9,95.37 L351.4,95.38 L351.9,95.39 L352.4,95.40 L352.9,95.41 L353.4,95.42 L353.9,95.43 L354.4,95.44 L354.9,95.45 L355.4,95.46 L355.9,95.47 L356.4,95.48 L356.9,95.49 L357.4,95.50 L357.9,95.51 L358.4,95.51 L358.9,95.52 L359.4,95.53 L359.9,95.54 L360.4,95.55 L360.9,95.56 L361.4,95.56 L361.9,95.57 L362.4,95.58 L362.9,95.59 L363.4,95.59 L363.9,95.60 L364.4,95.61 L364.9,95.62 L365.4,95.62 L365.9,95.63 L366.4,95.64 L366.9,95.65 L367.4,95.65 L367.9,95.66 L368.4,95.67 L368.9,95.67 L369.4,95.68 L369.9,95.69 L370.4,95.69 L370.9,95.70 L371.4,95.71 L371.9,95.71 L372.4,95.72 L372.9,95.73 L373.4,95.73 L373.9,95.74 L374.4,95.75 L374.9,95.75 L375.4,95.76 L375.9,95.77 L376.4,95.77 L376.9,95.78 L377.4,95.79 L377.9,95.79 L378.4,95.80 L378.9,95.81 L379.4,95.81 L379.9,95.82 L380.4,95.83 L380.9,95.83 L381.4,95.84 L381.9,95.85 L382.4,95.85 L382.9,95.86 L383.4,95.87 L383.9,95.87 L384.4,95.88 L384.9,95.89 L385.4,95.90 L385.9,95.90 L386.4,95.91 L386.9,95.92 L387.4,95.92 L387.9,95.93 L388.4,95.94 L388.9,95.95 L389.4,95.95 L389.9,95.96 L390.4,95.97 L390.9,95.98 L391.4,95.99 L391.9,95.99 L392.4,96.00 L392.9,96.01 L393.4,96.02 L393.9,96.03 L394.4,96.03 L394.9,96.04 L395.4,96.05 L395.9,96.06 L396.4,96.07 L396.9,96.08 L397.4,96.08 L397.9,96.09 L398.4,96.10 L398.9,96.11 L399.4,96.12 L399.9,96.13 L400.4,96.14 L400.9,96.15 L401.4,96.15 L401.9,96.16 L402.4,96.17 L402.9,96.18 L403.4,96.19 L403.9,96.20 L404.4,96.21 L404.9,96.22 L405.4,96.23 L405.9,96.24 L406.4,96.24 L406.9,96.25 L407.4,96.26 L407.9,96.27 L408.4,96.28 L408.9,96.29 L409.4,96.30 L409.9,96.31 L410.4,96.32 L410.9,96.33 L411.4,96.34 L411.9,96.35 L412.4,96.36 L412.9,96.37 L413.4,96.38 L413.9,96.39 L414.4,96.40 L414.9,96.41 L415.4,96.42 L415.9,96.43 L416.4,96.44 L416.9,96.45 L417.4,96.46 L417.9,96.47 L418.4,96.48 L418.9,96.49 L419.4,96.50 L419.9,96.51 L420.4,96.52 L420.9,96.53 L421.4,96.54 L421.9,96.55 L422.4,96.56 L422.9,96.57 L423.4,96.58 L423.9,96.59 L424.4,96.61 L424.9,96.62 L425.4,96.63 L425.9,96.64 L426.4,96.65 L426.9,96.66 L427.4,96.67 L427.9,96.68 L428.4,96.70 L428.9,96.71 L429.4,96.72 L429.9,96.73 L430.4,96.74 L430.9,96.75 L431.4,96.76 L431.9,96.77 L432.4,96.78 L432.9,96.79 L433.4,96.80 L433.9,96.81 L434.4,96.82 L434.9,96.83 L435.4,96.84 L435.9,96.85 L436.4,96.86 L436.9,96.87 L437.4,96.88 L437.9,96.89 L438.4,96.90 L438.9,96.91 L439.4,96.92 L439.9,96.92 L440.4,96.93 L440.9,96.94 L441.4,96.95 L441.9,96.95 L442.4,96.96 L442.9,96.97 L443.4,96.98 L443.9,96.98 L444.4,96.99 L444.9,96.99 L445.4,97.00 L445.9,97.01 L446.4,97.01 L446.9,97.02 L447.4,97.02 L447.9,97.03 L448.4,97.04 L448.9,97.04 L449.4,97.05 L449.9,97.05 L450.4,97.06 L450.9,97.06 L451.4,97.07 L451.9,97.07 L452.4,97.08 L452.9,97.08 L453.4,97.09 L453.9,97.09 L454.4,97.10 L454.9,97.10 L455.4,97.10 L455.9,97.11 L456.4,97.11 L456.9,97.12 L457.4,97.12 L457.9,97.13 L458.4,97.13 L458.9,97.13 L459.4,97.14 L459.9,97.14 L460.4,97.15 L460.9,97.15 L461.4,97.15 L461.9,97.16 L462.4,97.16 L462.9,97.16 L463.4,97.17 L463.9,97.17 L464.4,97.17 L464.9,97.18 L465.4,97.18 L465.9,97.18 L466.4,97.19 L466.9,97.19 L467.4,97.19 L467.9,97.20 L468.4,97.20 L468.9,97.20 L469.4,97.21 L469.9,97.21 L470.4,97.21 L470.9,97.22 L471.4,97.22 L471.9,97.22 L472.4,97.23 L472.9,97.23 L473.4,97.23 L473.9,97.23 L474.4,97.24 L474.9,97.24 L475.4,97.24 L475.9,97.24 L476.4,97.25 L476.9,97.25 L477.4,97.25 L477.9,97.26 L478.4,97.26 L478.9,97.26 L479.4,97.26 L479.9,97.27 L480.4,97.27 L480.9,97.27 L481.4,97.27 L481.9,97.28 L482.4,97.28 L482.9,97.28 L483.4,97.28 L483.9,97.29 L484.4,97.29 L484.9,97.29 L485.4,97.29 L485.9,97.30 L486.4,97.30 L486.9,97.30 L487.4,97.30 L487.9,97.31 L488.4,97.31 L488.9,97.31 L489.4,97.31 L489.9,97.32 L490.4,97.32 L490.9,97.32 L491.4,97.32 L491.9,97.33 L492.4,97.33 L492.9,97.33 L493.4,97.33 L493.9,97.33 L494.4,97.34 L494.9,97.34 L495.4,97.34 L495.9,97.34 L496.4,97.35 L496.9,97.35 L497.4,97.35 L497.9,97.35 L498.4,97.36 L498.9,97.36 L499.4,97.36 L499.9,97.36 L500.4,97.37 L500.9,97.37 L501.4,97.37 L501.9,97.37 L502.4,97.37 L502.9,97.38 L503.4,97.38 L503.9,97.38 L504.4,97.38 L504.9,97.39 L505.4,97.39 L505.9,97.39 L506.4,97.39 L506.9,97.39 L507.4,97.40 L507.9,97.40 L508.4,97.40 L508.9,97.40 L509.4,97.41 L509.9,97.41 L510.4,97.41 L510.9,97.41 L511.4,97.41 L511.9,97.42 L512.4,97.42 L512.9,97.42 L513.4,97.42 L513.9,97.42 L514.4,97.43 L514.9,97.43 L515.4,97.43 L515.9,97.43 L516.4,97.43 L516.9,97.44 L517.4,97.44 L517.9,97.44 L518.4,97.44 L518.9,97.44 L519.4,97.45 L519.9,97.45 L520.4,97.45 L520.9,97.45 L521.4,97.45 L521.9,97.46 L522.4,97.46 L522.9,97.46 L523.4,97.46 L523.9,97.46 L524.4,97.46 L524.9,97.47 L525.4,97.47 L525.9,97.47 L526.4,97.47 L526.9,97.47 L527.4,97.47 L527.9,97.47 L528.4,97.48 L528.9,97.48 L529.4,97.48 L529.9,97.48 L530.4,97.48 L530.9,97.48 L531.4,97.49 L531.9,97.49 L532.4,97.49 L532.9,97.49 L533.4,97.49 L533.9,97.49 L534.4,97.49 L534.9,97.49 L535.4,97.50 L535.9,97.50 L536.4,97.50 L537.0,97.50" stroke="#ffa500"/>
<path d="M60.4,188.10 L60.9,188.21 L61.4,188.31 L61.9,188.42 L62.4,188.53 L62.9,188.63 L63.4,188.74 L63.9,188.85 L64.4,188.95 L64.9,189.06 L65.4,189.16 L65.9,189.27 L66.4,189.38 L66.9,189.48 L67.4,189.59 L67.9,189.69 L68.4,189.80 L68.9,189.91 L69.4,190.01 L69.9,190.12 L70.4,190.22 L70.9,190.33 L71.4,190.44 L71.9,190.54 L72.4,190.65 L72.9,190.75 L73.4,190.86 L73.9,190.96 L74.4,191.07 L74.9,191.17 L75.4,191.28 L75.9,191.38 L76.4,191.49 L76.9,191.59 L77.4,191.69 L77.9,191.80 L78.4,191.90 L78.9,192.01 L79.4,192.11 L79.9,192.22 L80.4,192.32 L80.9,192.42 L81.4,192.53 L81.9,192.63 L82.4,192.74 L82.9,192.84 L83.4,192.95 L83.9,193.05 L84.4,193.16 L84.9,193.26 L85.4,193.37 L85.9,193.47 L86.4,193.58 L86.9,193.68 L87.4,193.79 L87.9,193.89 L88.4,194.00 L88.9,194.11 L89.4,194.21 L89.9,194.32 L90.4,194.43 L90.9,194.53 L91.4,194.64 L91.9,194.75 L92.4,194.86 L92.9,194.97 L93.4,195.08 L93.9,195.19 L94.4,195.30 L94.9,195.41 L95.4,195.53 L95.9,195.64 L96.4,195.76 L96.9,195.87 L97.4,195.99 L97.9,196.11 L98.4,196.22 L98.9,196.34 L99.4,196.47 L99.9,196.59 L100.4,196.71 L100.9,196.83 L101.4,196.96 L101.9,197.09 L102.4,197.22 L102.9,197.35 L103.4,197.48 L103.9,197.61 L104.4,197.74 L104.9,197.88 L105.4,198.01 L105.9,198.15 L106.4,198.29 L106.9,198.42 L107.4,198.56 L107.9,198.70 L108.4,198.84 L108.9,198.98 L109.4,199.12 L109.9,199.27 L110.4,199.41 L110.9,199.55 L111.4,199.69 L111.9,199.84 L112.4,199.98 L112.9,200.12 L113.4,200.27 L113.9,200.41 L114.4,200.55 L114.9,200.70 L115.4,200.84 L115.9,200.98 L116.4,201.13 L116.9,201.27 L117.4,201.42 L117.9,201.56 L118.4,201.70 L118.9,201.85 L119.4,202.00 L119.9,202.14 L120.4,202.29 L120.9,202.43 L121.4,202.58 L121.9,202.73 L122.4,202.87 L122.9,203.02 L123.4,203.17 L123.9,203.31 L124.4,203.46 L124.9,203.61 L125.4,203.75 L125.9,203.90 L126.4,204.05 L126.9,204.20 L127.4,204.35 L127.9,204.50 L128.4,204.65 L128.9,204.81 L129.4,204.96 L129.9,205.12 L130.4,205.27 L130.9,205.43 L131.4,205.59 L131.9,205.75 L132.4,205.91 L132.9,206.08 L133.4,206.24 L133.9,206.41 L134.4,206.57 L134.9,206.74 L135.4,206.91 L135.9,207.08 L136.4,207.25 L136.9,207.43 L137.4,207.62 L137.9,207.81 L138.4,208.00 L138.9,208.20 L139.4,208.41 L139.9,208.62 L140.4,208.84 L140.9,209.06 L141.4,209.29 L141.9,209.53 L142.4,209.77 L142.9,210.02 L143.4,210.27 L143.9,210.53 L144.4,210.79 L144.9,211.06 L145.4,211.34 L145.9,211.62 L146.4,211.91 L146.9,212.19 L147.4,212.48 L147.9,212.77 L148.4,213.05 L148.9,213.34 L149.4,213.63 L149.9,213.92 L150.4,214.21 L150.9,214.50 L151.4,214.78 L151.9,215.07 L152.4,215.36 L152.9,215.65 L153.4,215.94 L153.9,216.22 L154.4,216.51 L154.9,216.79 L155.4,217.08 L155.9,217.36 L156.4,217.65 L156.9,217.94 L157.4,218.22 L157.9,218.51 L158.4,218.79 L158.9,219.08 L159.4,219.36 L159.9,219.65 L160.4,219.93 L160.9,220.22 L161.4,220.50 L161.9,220.78 L162.4,221.07 L162.9,221.35 L163.4,221.64 L163.9,221.92 L164.4,222.20 L164.9,222.49 L165.4,222.77 L165.9,223.05 L166.4,223.34 L166.9,223.62 L167.4,223.89 L167.9,224.17 L168.4,224.45 L168.9,224.72 L169.4,224.99 L169.9,225.26 L170.4,225.53 L170.9,225.80 L171.4,226.06 L171.9,226.33 L172.4,226.59 L172.9,226.86 L173.4,227.12 L173.9,227.38 L174.4,227.64 L174.9,227.89 L175.4,228.15 L175.9,228.41 L176.4,228.66 L176.9,228.92 L177.4,229.17 L177.9,229.43 L178.4,229.68 L178.9,229.92 L179.4,230.17 L179.9,230.42 L180.4,230.66 L180.9,230.90 L181.4,231.15 L181.9,231.39 L182.4,231.62 L182.9,231.86 L183.4,232.10 L183.9,232.33 L184.4,232.57 L184.9,232.80 L185.4,233.03 L185.9,233.26 L186.4,233.50 L186.9,233.73 L187.4,233.95 L187.9,234.18 L188.4,234.41 L188.9,234.63 L189.4,234.86 L189.9,235.08 L190.4,235.30 L190.9,235.53 L191.4,235.75 L191.9,235.97 L192.4,236.18 L192.9,236.40 L193.4,236.62 L193.9,236.83 L194.4,237.05 L194.9,237.26 L195.4,237.47 L195.9,237.68 L196.4,237.89 L196.9,238.10 L197.4,238.31 L197.9,238.51 L198.4,238.71 L198.9,238.92 L199.4,239.12 L199.9,239.32 L200.4,239.51 L200.9,239.71 L201.4,239.90 L201.9,240.10 L202.4,240.29 L202.9,240.48 L203.4,240.67 L203.9,240.86 L204.4,241.05 L204.9,241.23 L205.4,241.42 L205.9,241.60 L206.4,241.78 L206.9,241.96 L207.4,242.14 L207.9,242.32 L208.4,242.50 L208.9,242.68 L209.4,242.85 L209.9,243.03 L210.4,243.20 L210.9,243.37 L211.4,243.54 L211.9,243.71 L212.4,243.88 L212.9,244.04 L213.4,244.21 L213.9,244.37 L214.4,244.53 L214.9,244.69 L215.4,244.85 L215.9,245.00 L216.4,245.16 L216.9,245.31 L217.4,245.46 L217.9,245.61 L218.4,245.76 L218.9,245.91 L219.4,246.06 L219.9,246.20 L220.4,246.35 L220.9,246.49 L221.4,246.63 L221.9,246.77 L222.4,246.91 L222.9,247.05 L223.4,247.18 L223.9,247.32 L224.4,247.46 L224.9,247.59 L225.4,247.73 L225.9,247.86 L226.4,247.99 L226.9,248.13 L227.4,248.26 L227.9,248.39 L228.4,248.52 L228.9,248.65 L229.4,248.78 L229.9,248.91 L230.4,249.03 L230.9,249.16 L231.4,249.29 L231.9,249.41 L232.4,249.54 L232.9,249.66 L233.4,249.78 L233.9,249.90 L234.4,250.02 L234.9,250.14 L235.4,250.25 L235.9,250.37 L236.4,250.48 L236.9,250.60 L237.4,250.71 L237.9,250.82 L238.4,250.93 L238.9,251.04 L239.4,251.15 L239.9,251.25 L240.4,251.36 L240.9,251.46 L241.4,251.57 L241.9,251.67 L242.4,251.78 L242.9,251.88 L243.4,251.98 L243.9,252.08 L244.4,252.18 L244.9,252.28 L245.4,252.38 L245.9,252.48 L246.4,252.58 L246.9,252.67 L247.4,252.77 L247.9,252.87 L248.4,252.96 L248.9,253.06 L249.4,253.15 L249.9,253.25 L250.4,253.34 L250.9,253.43 L251.4,253.53 L251.9,253.62 L252.4,253.71 L252.9,253.80 L253.4,253.90 L253.9,253.99 L254.4,254.08 L254.9,254.17 L255.4,254.26 L255.9,254.35 L256.4,254.44 L256.9,254.53 L257.4,254.62 L257.9,254.71 L258.4,254.80 L258.9,254.89 L259.4,254.98 L259.9,255.07 L260.4,255.16 L260.9,255.25 L261.4,255.34 L261.9,255.42 L262.4,255.51 L262.9,255.60 L263.4,255.68 L263.9,255.77 L264.4,255.86 L264.9,255.94 L265.4,256.03 L265.9,256.11 L266.4,256.19 L266.9,256.28 L267.4,256.36 L267.9,256.44 L268.4,256.53 L268.9,256.61 L269.4,256.69 L269.9,256.77 L270.4,256.85 L270.9,256.93 L271.4,257.01 L271.9,257.09 L272.4,257.16 L272.9,257.24 L273.4,257.32 L273.9,257.39 L274.4,257.47 L274.9,257.54 L275.4,257.62 L275.9,257.69 L276.4,257.77 L276.9,257.84 L277.4,257.91 L277.9,257.98 L278.4,258.05 L278.9,258.12 L279.4,258.19 L279.9,258.26 L280.4,258.32 L280.9,258.39 L281.4,258.46 L281.9,258.52 L282.4,258.59 L282.9,258.65 L283.4,258.72 L283.9,258.78 L284.4,258.84 L284.9,258.91 L285.4,258.97 L285.9,259.03 L286.4,259.09 L286.9,259.15 L287.4,259.21 L287.9,259.27 L288.4,259.32 L288.9,259.38 L289.4,259.44 L289.9,259.50 L290.4,259.55 L290.9,259.61 L291.4,259.66 L291.9,259.72 L292.4,259.77 L292.9,259.83 L293.4,259.88 L293.9,259.93 L294.4,259.99 L294.9,260.04 L295.4,260.09 L295.9,260.14 L296.4,260.19 L296.9,260.25 L297.4,260.30 L297.9,260.35 L298.4,260.40 L298.9,260.44 L299.4,260.49 L299.9,260.54 L300.4,260.59 L300.9,260.64 L301.4,260.68 L301.9,260.73 L302.4,260.78 L302.9,260.82 L303.4,260.87 L303.9,260.91 L304.4,260.96 L304.9,261.00 L305.4,261.05 L305.9,261.09 L306.4,261.14 L306.9,261.18 L307.4,261.22 L307.9,261.27 L308.4,261.31 L308.9,261.35 L309.4,261.39 L309.9,261.44 L310.4,261.48 L310.9,261.52 L311.4,261.56 L311.9,261.60 L312.4,261.64 L312.9,261.68 L313.4,261.72 L313.9,261.76 L314.4,261.80 L314.9,261.84 L315.4,261.88 L315.9,261.92 L316.4,261.96 L316.9,262.00 L317.4,262.04 L317.9,262.08 L318.4,262.12 L318.9,262.16 L319.4,262.20 L319.9,262.23 L320.4,262.27 L320.9,262.31 L321.4,262.35 L321.9,262.39 L322.4,262.42 L322.9,262.46 L323.4,262.50 L323.9,262.54 L324.4,262.58 L324.9,262.61 L325.4,262.65 L325.9,262.69 L326.4,262.73 L326.9,262.76 L327.4,262.80 L327.9,262.84 L328.4,262.87 L328.9,262.91 L329.4,262.95 L329.9,262.98 L330.4,263.02 L330.9,263.06 L331.4,263.09 L331.9,263.13 L332.4,263.17 L332.9,263.20 L333.4,263.24 L333.9,263.27 L334.4,263.31 L334.9,263.35 L335.4,263.38 L335.9,263.42 L336.4,263.45 L336.9,263.49 L337.4,263.52 L337.9,263.56 L338.4,263.59 L338.9,263.63 L339.4,263.67 L339.9,263.70 L340.4,263.74 L340.9,263.77 L341.4,263.80 L341.9,263.84 L342.4,263.87 L342.9,263.91 L343.4,263.94 L343.9,263.98 L344.4,264.01 L344.9,264.05 L345.4,264.08 L345.9,264.11 L346.4,264.15 L346.9,264.18 L347.4,264.22 L347.9,264.25 L348.4,264.28 L348.9,264.32 L349.4,264.35 L349.9,264.38 L350.4,264.41 L350.9,264.45 L351.4,264.48 L351.9,264.51 L352.4,264.54 L352.9,264.58 L353.4,264.61 L353.9,264.64 L354.4,264.67 L354.9,264.70 L355.4,264.73 L355.9,264.77 L356.4,264.80 L356.9,264.83 L357.4,264.86 L357.9,264.89 L358.4,264.92 L358.9,264.95 L359.4,264.98 L359.9,265.01 L360.4,265.04 L360.9,265.07 L361.4,265.10 L361.9,265.13 L362.4,265.15 L362.9,265.18 L363.4,265.21 L363.9,265.24 L364.4,265.27 L364.9,265.30 L365.4,265.32 L365.9,265.35 L366.4,265.38 L366.9,265.40 L367.4,265.43 L367.9,265.46 L368.4,265.48 L368.9,265.51 L369.4,265.54 L369.9,265.56 L370.4,265.59 L370.9,265.61 L371.4,265.64 L371.9,265.66 L372.4,265.69 L372.9,265.71 L373.4,265.74 L373.9,265.76 L374.4,265.78 L374.9,265.81 L375.4,265.83 L375.9,265.86 L376.4,265.88 L376.9,265.90 L377.4,265.92 L377.9,265.95 L378.4,265.97 L378.9,265.99 L379.4,266.01 L379.9,266.03 L380.4,266.06 L380.9,266.08 L381.4,266.10 L381.9,266.12 L382.4,266.14 L382.9,266.16 L383.4,266.18 L383.9,266.20 L384.4,266.22 L384.9,266.24 L385.4,266.26 L385.9,266.28 L386.4,266.30 L386.9,266.32 L387.4,266.34 L387.9,266.35 L388.4,266.37 L388.9,266.39 L389.4,266.41 L389.9,266.43 L390.4,266.45 L390.9,266.46 L391.4,266.48 L391.9,266.50 L392.4,266.52 L392.9,266.53 L393.4,266.55 L393.9,266.57 L394.4,266.59 L394.9,266.60 L395.4,266.62 L395.9,266.64 L396.4,266.65 L396.9,266.67 L397.4,266.68 L397.9,266.70 L398.4,266.72 L398.9,266.73 L399.4,266.75 L399.9,266.76 L400.4,266.78 L400.9,266.79 L401.4,266.81 L401.9,266.82 L402.4,266.84 L402.9,266.85 L403.4,266.87 L403.9,266.88 L404.4,266.90 L404.9,266.91 L405.4,266.93 L405.9,266.94 L406.4,266.95 L406.9,266.97 L407.4,266.98 L407.9,267.00 L408.4,267.01 L408.9,267.02 L409.4,267.04 L409.9,267.05 L410.4,267.06 L410.9,267.08 L411.4,267.09 L411.9,267.10 L412.4,267.11 L412.9,267.13 L413.4,267.14 L413.9,267.15 L414.4,267.16 L414.9,267.18 L415.4,267.19 L415.9,267.20 L416.4,267.21 L416.9,267.22 L417.4,267.23 L417.9,267.25 L418.4,267.26 L418.9,267.27 L419.4,267.28 L419.9,267.29 L420.4,267.30 L420.9,267.31 L421.4,267.32 L421.9,267.33 L422.4,267.34 L422.9,267.35 L423.4,267.36 L423.9,267.37 L424.4,267.38 L424.9,267.39 L425.4,267.40 L425.9,267.41 L426.4,267.42 L426.9,267.43 L427.4,267.44 L427.9,267.45 L428.4,267.46 L428.9,267.47 L429.4,267.48 L429.9,267.49 L430.4,267.49 L430.9,267.50 L431.4,267.51 L431.9,267.52 L432.4,267.53 L432.9,267.54 L433.4,267.54 L433.9,267.55 L434.4,267.56 L434.9,267.57 L435.4,267.58 L435.9,267.58 L436.4,267.59 L436.9,267.60 L437.4,267.61 L437.9,267.61 L438.4,267.62 L438.9,267.63 L439.4,267.63 L439.9,267.64 L440.4,267.65 L440.9,267.66 L441.4,267.66 L441.9,267.67 L442.4,267.68 L442.9,267.68 L443.4,267.69 L443.9,267.70 L444.4,267.71 L444.9,267.71 L445.4,267.72 L445.9,267.73 L446.4,267.73 L446.9,267.74 L447.4,267.75 L447.9,267.75 L448.4,267.76 L448.9,267.77 L449.4,267.77 L449.9,267.78 L450.4,267.79 L450.9,267.79 L451.4,267.80 L451.9,267.81 L452.4,267.81 L452.9,267.82 L453.4,267.83 L453.9,267.83 L454.4,267.84 L454.9,267.84 L455.4,267.85 L455.9,267.86 L456.4,267.86 L456.9,267.87 L457.4,267.88 L457.9,267.88 L458.4,267.89 L458.9,267.90 L459.4,267.90 L459.9,267.91 L460.4,267.91 L460.9,267.92 L461.4,267.93 L461.9,267.93 L462.4,267.94 L462.9,267.94 L463.4,267.95 L463.9,267.96 L464.4,267.96 L464.9,267.97 L465.4,267.97 L465.9,267.98 L466.4,267.99 L466.9,267.99 L467.4,268.00 L467.9,268.00 L468.4,268.01 L468.9,268.02 L469.4,268.02 L469.9,268.03 L470.4,268.03 L470.9,268.04 L471.4,268.04 L471.9,268.05 L472.4,268.05 L472.9,268.06 L473.4,268.07 L473.9,268.07 L474.4,268.08 L474.9,268.08 L475.4,268.09 L475.9,268.09 L476.4,268.10 L476.9,268.10 L477.4,268.11 L477.9,268.11 L478.4,268.12 L478.9,268.12 L479.4,268.13 L479.9,268.13 L480.4,268.14 L480.9,268.14 L481.4,268.15 L481.9,268.15 L482.4,268.16 L482.9,268.16 L483.4,268.17 L483.9,268.17 L484.4,268.18 L484.9,268.18 L485.4,268.19 L485.9,268.19 L486.4,268.20 L486.9,268.20 L487.4,268.21 L487.9,268.21 L488.4,268.21 L488.9,268.22 L489.4,268.22 L489.9,268.23 L490.4,268.23 L490.9,268.24 L491.4,268.24 L491.9,268.25 L492.4,268.25 L492.9,268.26 L493.4,268.26 L493.9,268.26 L494.4,268.27 L494.9,268.27 L495.4,268.28 L495.9,268.28 L496.4,268.29 L496.9,268.29 L497.4,268.30 L497.9,268.30 L498.4,268.30 L498.9,268.31 L499.4,268.31 L499.9,268.32 L500.4,268.32 L500.9,268.33 L501.4,268.33 L501.9,268.33 L502.4,268.34 L502.9,268.34 L503.4,268.35 L503.9,268.35 L504.4,268.36 L504.9,268.36 L505.4,268.36 L505.9,268.37 L506.4,268.37 L506.9,268.38 L507.4,268.38 L507.9,268.39 L508.4,268.39 L508.9,268.39 L509.4,268.40 L509.9,268.40 L510.4,268.41 L510.9,268.41 L511.4,268.41 L511.9,268.42 L512.4,268.42 L512.9,268.43 L513.4,268.43 L513.9,268.43 L514.4,268.44 L514.9,268.44 L515.4,268.45 L515.9,268.45 L516.4,268.45 L516.9,268.46 L517.4,268.46 L517.9,268.47 L518.4,268.47 L518.9,268.47 L519.4,268.48 L519.9,268.48 L520.4,268.48 L520.9,268.49 L521.4,268.49 L521.9,268.50 L522.4,268.50 L522.9,268.50 L523.4,268.51 L523.9,268.51 L524.4,268.51 L524.9,268.52 L525.4,268.52 L525.9,268.53 L526.4,268.53 L526.9,268.53 L527.4,268.54 L527.9,268.54 L528.4,268.54 L528.9,268.55 L529.4,268.55 L529.9,268.55 L530.4,268.56 L530.9,268.56 L531.4,268.56 L531.9,268.57 L532.4,268.57 L532.9,268.57 L533.4,268.58 L533.9,268.58 L534.4,268.58 L534.9,268.59 L535.4,268.59 L535.9,268.59 L536.4,268.60 L537.0,268.60" stroke="#ff0000"/>
<path d="M145.90,11.26 V484.8" stroke="#000" stroke-width="1.65" stroke-dasharray="9.5 2.09 1.43 2.085" stroke-dashoffset="9.875"/>
</g>
<path d="M85.52,484.8 v4.9 M135.69,484.8 v4.9 M185.86,484.8 v4.9 M236.03,484.8 v4.9 M286.20,484.8 v4.9 M336.37,484.8 v4.9 M386.53,484.8 v4.9 M436.70,484.8 v4.9 M486.87,484.8 v4.9 M537.04,484.8 v4.9 M60.44,11.29 h-4.9 M60.44,97.45 h-4.9 M60.44,183.61 h-4.9 M60.44,269.77 h-4.9 M60.44,355.93 h-4.9 M60.44,442.09 h-4.9" fill="none" stroke="#000" stroke-width="1.45"/>
<rect x="60.44" y="11.26" width="476.59999999999997" height="473.54" fill="none" stroke="#000" stroke-width="1.4"/>
<g font-family="'Liberation Serif', serif" font-size="16.5" fill="#000" stroke="#000" stroke-width="0.3">
<text x="85.52" y="507.1" text-anchor="middle">0.2</text>
<text x="135.69" y="507.1" text-anchor="middle">0.4</text>
<text x="185.86" y="507.1" text-anchor="middle">0.6</text>
<text x="236.03" y="507.1" text-anchor="middle">0.8</text>
<text x="286.20" y="507.1" text-anchor="middle">1.0</text>
<text x="336.37" y="507.1" text-anchor="middle">1.2</text>
<text x="386.53" y="507.1" text-anchor="middle">1.4</text>
<text x="436.70" y="507.1" text-anchor="middle">1.6</text>
<text x="486.87" y="507.1" text-anchor="middle">1.8</text>
<text x="537.04" y="507.1" text-anchor="middle">2.0</text>
<text x="49.9" y="17.29" text-anchor="end">2</text>
<text x="49.9" y="103.45" text-anchor="end">1</text>
<text x="49.9" y="189.61" text-anchor="end">0</text>
<text x="49.9" y="275.77" text-anchor="end">−1</text>
<text x="49.9" y="361.93" text-anchor="end">−2</text>
<text x="49.9" y="448.09" text-anchor="end">−3</text>
</g>
<g font-family="'Liberation Serif', serif" font-size="19.7" fill="#000" stroke="#000" stroke-width="0.3">
<text y="531.6"><tspan x="194.0">Inverse</tspan> <tspan x="258.8">temperature</tspan> <tspan x="371.3">J</tspan> <tspan x="382.6">(-)</tspan></text>
<text x="358.0" y="531.6" font-family="'DejaVu Sans', sans-serif" font-style="italic" font-size="20.8" stroke-width="0.3">β</text>
<text transform="translate(22.1,248.03) rotate(-90)" text-anchor="middle">Fit parameter (-)</text>
</g>
<rect x="67.7" y="393.05" width="58.1" height="84.75" rx="3" fill="#fff" fill-opacity="0.87" stroke="#ccc" stroke-opacity="0.9" stroke-width="1.4"/>
<path d="M72.1,403.9 H103" stroke="#0000ff" stroke-width="2.6" fill="none"/>
<text x="113.0" y="408.60" font-family="'Liberation Serif', serif" font-size="15.0" fill="#000" stroke="#000" stroke-width="0.3">a</text>
<path d="M72.1,424.0 H103" stroke="#008000" stroke-width="2.6" fill="none"/>
<text x="113.0" y="428.70" font-family="'Liberation Serif', serif" font-size="15.0" fill="#000" stroke="#000" stroke-width="0.3">b</text>
<path d="M72.1,444.2 H103" stroke="#ffa500" stroke-width="2.6" fill="none"/>
<text x="113.0" y="448.90" font-family="'Liberation Serif', serif" font-size="15.0" fill="#000" stroke="#000" stroke-width="0.3">c</text>
<path d="M72.1,464.3 H103" stroke="#ff0000" stroke-width="2.6" fill="none"/>
<text x="113.0" y="469.00" font-family="'Liberation Serif', serif" font-size="15.0" fill="#000" stroke="#000" stroke-width="0.3">d</text>
</svg>
</body></html>
